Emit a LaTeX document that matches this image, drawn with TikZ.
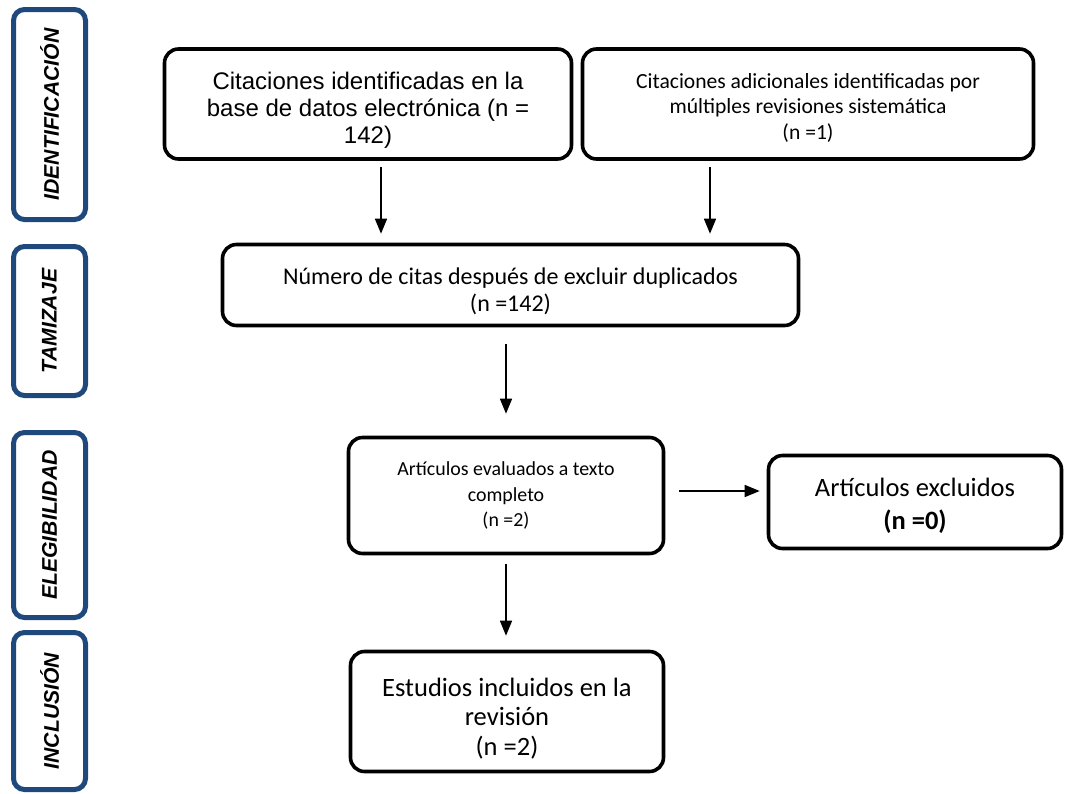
\documentclass[tikz,border=0pt]{standalone}
\usepackage{fontspec}
\setmainfont{Carlito}
\newfontfamily\arialf{Liberation Sans}
\usetikzlibrary{arrows.meta}
\definecolor{phaseblue}{RGB}{31,73,125}
% invisible strut that pads the first line of a box from above
\newcommand\padtop[1]{\rule{0pt}{#1}}
\begin{document}
\begin{tikzpicture}[x=1pt,y=-1pt,
  box/.style={draw=black, line width=3.6pt, rounded corners=14pt, align=center, inner sep=0pt},
  phase/.style={draw=phaseblue, line width=5pt, rounded corners=11pt, inner sep=0pt,
    rotate=90, font=\arialf\bfseries\itshape\fontsize{21.2}{24}\selectfont},
  flow/.style={line width=1.5pt, -{Triangle[length=15pt,width=12pt]}},
]
\useasboundingbox (0,0) rectangle (1065,793);

% phase labels on the left
\node[phase, minimum width=210pt, minimum height=72pt] (ident) at (49.5,114.5) {IDENTIFICACIÓN};
\node[phase, minimum width=149pt, minimum height=72pt] (tamiz) at (49.5,321) {TAMIZAJE};
\node[phase, minimum width=185pt, minimum height=72pt] (elegi) at (49.5,525) {ELEGIBILIDAD};
\node[phase, minimum width=157pt, minimum height=72pt] (inclu) at (49.5,711) {INCLUSIÓN};

% flow boxes
\node[box, minimum width=407pt, minimum height=110pt,
  font=\arialf\fontsize{24}{27}\selectfont] (b1) at (368,104)
  {\padtop{29.5pt}Citaciones identificadas en la\\base de datos electrónica (n =\\142)};
\node[box, minimum width=451pt, minimum height=110pt,
  font=\fontsize{21.6}{25.5}\selectfont] (b2) at (808,104)
  {\padtop{22.2pt}Citaciones adicionales identificadas por\\múltiples revisiones sistemática\\(n =1)};
\node[box, minimum width=576pt, minimum height=81pt,
  font=\fontsize{24}{27}\selectfont] (b3) at (510.5,285)
  {\padtop{28.5pt}Número de citas después de excluir duplicados\\(n =142)};
\node[box, minimum width=315pt, minimum height=116pt,
  font=\fontsize{19.9}{25.5}\selectfont] (b4) at (506,495.5)
  {Artículos evaluados a texto\\completo\\(n =2)};
\node[box, minimum width=293pt, minimum height=93pt,
  font=\fontsize{26.5}{33}\selectfont] (b5) at (915,502)
  {\padtop{26.4pt}Artículos excluidos\\\textbf{(n =0)}};
\node[box, minimum width=313pt, minimum height=120pt,
  font=\fontsize{26.5}{29.5}\selectfont] (b6) at (507,711.5)
  {\padtop{32pt}Estudios incluidos en la\\revisión\\(n =2)};

% connectors
\coordinate (x1) at (381,0);
\coordinate (x2) at (710,0);
\coordinate (x3) at (506,0);
\coordinate (y4) at (0,491);
\draw[flow, shorten <=6pt, shorten >=9pt] (b1.south -| x1) -- (b3.north -| x1);
\draw[flow, shorten <=6pt, shorten >=9pt] (b2.south -| x2) -- (b3.north -| x2);
\draw[flow, shorten <=17pt, shorten >=22pt] (b3.south -| x3) -- (b4.north -| x3);
\draw[flow, shorten <=14pt, shorten >=7pt] (b4.east |- y4) -- (b5.west |- y4);
\draw[flow, shorten <=9pt, shorten >=14pt] (b4.south -| x3) -- (b6.north -| x3);
\end{tikzpicture}
\end{document}
